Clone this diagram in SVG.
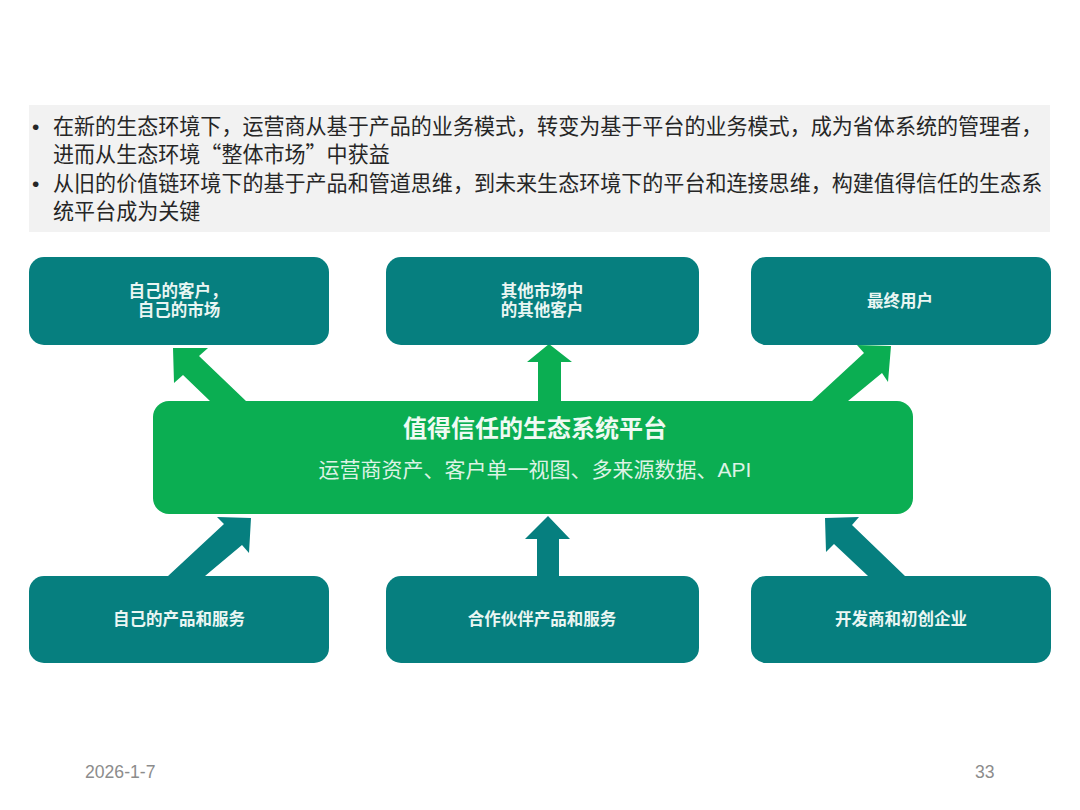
<svg xmlns="http://www.w3.org/2000/svg" width="1080" height="810" viewBox="0 0 1080 810">
<style>
text{font-family:"Liberation Sans","Noto Sans CJK SC",sans-serif}
.t{font-size:21.05px;fill:#262626;font-family:"Noto Sans CJK SC","Liberation Sans",sans-serif}
.b{font-size:21px;fill:#262626}
.box{fill:#067F7F}
.lab{font-size:16.5px;font-weight:700;fill:#EAF6F3;text-anchor:middle}
.g{fill:#0BAE52}
.k{fill:#067F7F}
.f{font-size:17.6px;fill:#8C8C8C}
</style>
<rect width="1080" height="810" fill="#FFFFFF"/>
<g id="summary">
<rect x="29" y="105" width="1021" height="127" fill="#F2F2F2"/>
<text class="b" x="32" y="134">•</text>
<text class="t" x="53" y="134">在新的生态环境下，运营商从基于产品的业务模式，转变为基于平台的业务模式，成为省体系统的管理者，</text>
<text class="t" x="53" y="162">进而从生态环境“整体市场”中获益</text>
<text class="b" x="32" y="191">•</text>
<text class="t" x="53" y="191">从旧的价值链环境下的基于产品和管道思维，到未来生态环境下的平台和连接思维，构建值得信任的生态系</text>
<text class="t" x="53" y="219">统平台成为关键</text>
</g>
<g id="connectors">
<polygon class="g" points="173,348 208,348 199,356 246,401 210,401 183,375 174,383"/>
<polygon class="g" points="549,344 572,362 561,362 561,401 538,401 538,362 527,362"/>
<polygon class="g" points="891,346 857,345 864,353 812,401 848,401 882,373 888,382"/>
<polygon class="k" points="251,518 217,517 224,524 168,576 205,576 242,545 249,553"/>
<polygon class="k" points="548,516 570,539 559,539 559,576 537,576 537,539 525,539"/>
<polygon class="k" points="825,518 859,517 852,525 905,576 868,576 834,544 826,552"/>
</g>
<g id="node-own-customers">
<rect class="box" x="29" y="257" width="300" height="88" rx="15"/>
<text class="lab" x="178" y="297">自己的客户，</text>
<text class="lab" x="179" y="316">自己的市场</text>
</g>
<g id="node-other-customers">
<rect class="box" x="386" y="257" width="313" height="88" rx="15"/>
<text class="lab" x="542" y="297">其他市场中</text>
<text class="lab" x="542" y="316">的其他客户</text>
</g>
<g id="node-end-users">
<rect class="box" x="751" y="257" width="300" height="88" rx="15"/>
<text class="lab" x="900" y="307">最终用户</text>
</g>
<g id="node-platform">
<rect class="g" x="153" y="401" width="760" height="113" rx="16"/>
<text x="535" y="437" text-anchor="middle" font-size="24px" font-weight="700" fill="#EFFAF3">值得信任的生态系统平台</text>
<text x="535" y="477" text-anchor="middle" font-size="21px" fill="#DDF3E5">运营商资产、客户单一视图、多来源数据、API</text>
</g>
<g id="node-own-products">
<rect class="box" x="29" y="576" width="300" height="87" rx="15"/>
<text class="lab" x="179" y="625">自己的产品和服务</text>
</g>
<g id="node-partner-products">
<rect class="box" x="386" y="576" width="313" height="87" rx="15"/>
<text class="lab" x="542" y="625">合作伙伴产品和服务</text>
</g>
<g id="node-developers">
<rect class="box" x="751" y="576" width="300" height="87" rx="15"/>
<text class="lab" x="901" y="625">开发商和初创企业</text>
</g>
<g id="footer">
<text class="f" x="85" y="778">2026-1-7</text>
<text class="f" x="975" y="778">33</text>
</g>
</svg>
